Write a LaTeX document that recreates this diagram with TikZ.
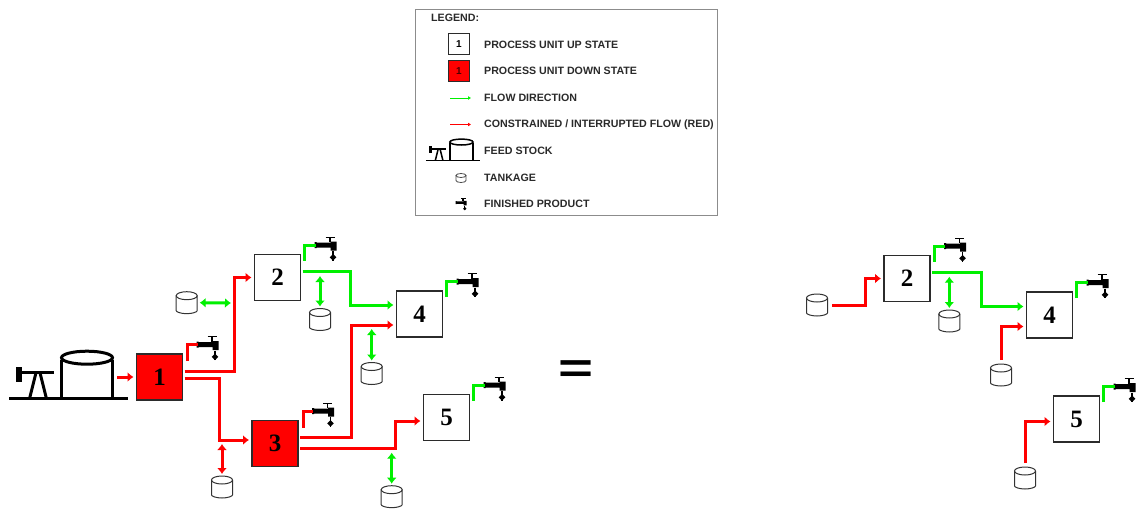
\documentclass[tikz,border=0pt]{standalone}
\usepackage{fontspec}
\setmainfont{Liberation Serif}
\setsansfont{Liberation Sans}
\usetikzlibrary{arrows.meta,positioning,calc}
\definecolor{flowgreen}{HTML}{00F000}
\definecolor{flowred}{HTML}{FF0000}
\definecolor{unitgray}{HTML}{2B2B2B}
\definecolor{legendgray}{HTML}{8C8C8C}
\definecolor{legendtext}{HTML}{2A2A2A}
\tikzset{
  unit/.style={draw=unitgray,line width=1.5pt,outer sep=0pt,fill=white,minimum size=46pt,inner sep=0pt,font=\fontsize{25}{25}\selectfont\bfseries},
  downunit/.style={unit,fill=flowred},
  keyunit/.style={draw=unitgray,line width=1pt,fill=white,minimum size=21pt,inner sep=0pt,font=\sffamily\fontsize{10}{10}\selectfont\bfseries,text=black},
  keydownunit/.style={keyunit,fill=flowred,text=black!70!red},
  tankage/.style={minimum size=24pt,inner sep=0pt,outer sep=0pt,path picture={
    \draw[black!80,line width=1pt,rounded corners=1pt] (-10.5,-7) -- (-10.5,7) arc[start angle=180,end angle=0,x radius=10.5,y radius=4] -- (10.5,-7);
    \draw[black!80,line width=1pt] (0,-7) ellipse[x radius=10.5,y radius=4];
  }},
  keytank/.style={minimum size=14pt,inner sep=0pt,outer sep=0pt,path picture={
    \draw[black!70,line width=.8pt] (-5,-2.5) -- (-5,2.5) arc[start angle=180,end angle=0,x radius=5,y radius=2] -- (5,-2.5);
    \draw[black!70,line width=.8pt] (0,-2.5) ellipse[x radius=5,y radius=2];
  }},
  keytext/.style={anchor=mid west,inner sep=0pt,text=legendtext,font=\sffamily\fontsize{10.65}{11}\selectfont\bfseries},
  flow/.style={-{Latex[length=6pt,width=10pt]},line width=3pt,shorten >=3pt,shorten <=2pt},
  greenflow/.style={flow,draw=flowgreen},
  redflow/.style={flow,draw=flowred},
  greenboth/.style={{Latex[length=6pt,width=10pt]}-{Latex[length=6pt,width=10pt]},line width=3pt,draw=flowgreen},
  redboth/.style={greenboth,draw=flowred},
  greenstub/.style={line width=3pt,draw=flowgreen},
  redstub/.style={line width=3pt,draw=flowred},
  keyflow/.style={-{Latex[length=3pt,width=4pt]},line width=1pt},
  tap/.pic={
    \coordinate (-in) at (-10,-4);
    \fill[black] (-11,-7) rectangle (-9,-1) (-10,-6.5) rectangle (6,-1.5) (5,-7.5) rectangle (11,1.5);
    \draw[black,line width=1pt] (0,-12) -- (9,-12);
    \draw[black,line width=1.6pt] (4.5,-12) -- (4.5,-7);
    \draw[black,line width=1.2pt] (7.5,2) -- (7.5,11.5);
    \fill[black] (7.5,5) -- (10.8,8.3) -- (7.5,11.5) -- (4.2,8.3) -- cycle;
  },
  feedstock/.pic={
    \coordinate (-out) at (46.5,-21.7);
    \draw[black] (-59.5,0) -- (59.5,0);
    \draw[black] (-7,0) -- (-7,-39) (44,0) -- (44,-39);
    \draw[black,fill=white] (18.5,-41) ellipse[x radius=25.5,y radius=6.5];
    \fill[black] (-52.5,-31.5) rectangle (-46.5,-17);
    \draw[black] (-52,-26) -- (-14.5,-26);
    \draw[black] (-39,0) -- (-32.5,-26) (-28.5,-26) -- (-22,0);
  }
}
\begin{document}
\begin{tikzpicture}[x=1pt,y=-1pt]
  \useasboundingbox (0,0) rectangle (1138,511);
  % legend
  \node[draw=legendgray,line width=1pt,fill=white,minimum width=302pt,minimum height=206pt,inner sep=0pt] (legend) at (566.8,112.5) {};
  \node[keytext] (legendtitle) at (431,19.5) {LEGEND:};
  \node[keytext] (uptext) at (484,46) {PROCESS UNIT UP STATE};
  \node[keytext] (downtext) at (484,72.5) {PROCESS UNIT DOWN STATE};
  \node[keytext] (greentext) at (484,99) {FLOW DIRECTION};
  \node[keytext] (redtext) at (484,125.5) {CONSTRAINED / INTERRUPTED FLOW (RED)};
  \node[keytext] (feedtext) at (484,152) {FEED STOCK};
  \node[keytext] (tanktext) at (484,179) {TANKAGE};
  \node[keytext] (tapstext) at (484,205.5) {FINISHED PRODUCT};
  \node[keyunit] (upkey) at (459,44.5) {1};
  \node[keydownunit] (downkey) at (459,71) {1};
  \draw[keyflow,draw=flowgreen] ([xshift=-34pt,yshift=1pt]greentext.mid west) -- ([xshift=-13pt,yshift=1pt]greentext.mid west);
  \draw[keyflow,draw=flowred] ([xshift=-34pt,yshift=1pt]redtext.mid west) -- ([xshift=-13pt,yshift=1pt]redtext.mid west);
  \pic[scale=.455,line width=1.5pt] (feedkey) at (453,160.7) {feedstock};
  \node[keytank] (tankkey) at (461,178) {};
  \pic[scale=.5,line width=.8pt] (tapkey) at (461,204.5) {tap};
  % plant with all units
  \pic[line width=3pt] (feed) at (68.5,398.7) {feedstock};
  \node[downunit] (unit1) at (159.5,377) {1};
  \node[unit,above right=53.5pt and 72pt of unit1] (unit2) {2};
  \node[downunit,below right=20.5pt and 69.5pt of unit1] (unit3) {3};
  \node[unit,below right=-9.5pt and 96pt of unit2] (unit4) {4};
  \node[unit,above right=-20pt and 125.5pt of unit3] (unit5) {5};
  \pic (tap1) at ([shift={(48,-28.5)}]unit1) {tap};
  \pic (tap2) at ([shift={(48,-28.5)}]unit2) {tap};
  \pic (tap3) at ([shift={(48,-28.5)}]unit3) {tap};
  \pic (tap4) at ([shift={(48,-28.5)}]unit4) {tap};
  \pic (tap5) at ([shift={(48,-28.5)}]unit5) {tap};
  \node[tankage] (tank1) at (186.7,302.7) {};
  \node[tankage] (tank2) at (320,319.5) {};
  \node[tankage] (tank3) at (222,487) {};
  \node[tankage] (tank4) at (371.7,373.5) {};
  \node[tankage] (tank5) at (391.7,496.7) {};
  \coordinate (joint1) at (231,303);
  \coordinate (joint2) at (320,276);
  \coordinate (joint3) at (222,444);
  \coordinate (joint4) at (371.7,329);
  \coordinate (joint5) at (391.7,452.7);
  \draw[redflow] (feed-out) -- (unit1.west);
  \draw[redstub] ([xshift=5pt,yshift=-7pt]unit1.north east) |- (tap1-in);
  \draw[greenstub] ([xshift=4pt,yshift=-6pt]unit2.north east) |- (tap2-in);
  \draw[redstub] ([xshift=5pt,yshift=-7pt]unit3.north east) |- (tap3-in);
  \draw[greenstub] ([xshift=4pt,yshift=-6pt]unit4.north east) |- (tap4-in);
  \draw[greenstub] ([xshift=4pt,yshift=-6pt]unit5.north east) |- (tap5-in);
  \draw[redflow] ([yshift=5.5pt]unit1.east) -- ++(52,0) |- (unit2.west);
  \draw[redflow] ([yshift=-1.7pt]unit1.east) -- ++(37,0) |- ([yshift=3.5pt]unit3.west);
  \draw[greenflow] ([yshift=6.5pt]unit2.east) -- ++(50,0) |- ([yshift=9pt]unit4.west);
  \draw[redflow] ([yshift=5.8pt]unit3.east) -- ++(53,0) |- ([yshift=-11pt]unit4.west);
  \draw[redflow] ([yshift=-5pt]unit3.east) -- ++(97,0) |- ([yshift=-3.5pt]unit5.west);
  \draw[greenboth] (tank1.east) ++(1,0) -- (joint1);
  \draw[greenboth] (tank2.north) ++(0,-1) -- (joint2);
  \draw[redboth] (tank3.north) ++(0,-1) -- (joint3);
  \draw[greenboth] (tank4.north) ++(0,-1) -- (joint4);
  \draw[greenboth] (tank5.north) ++(0,-1) -- (joint5);
  % equals
  \node[inner sep=0pt,font=\sffamily\fontsize{60}{60}\selectfont\bfseries] (equals) at (576,372) {\scalebox{1}[.7]{=}};
  % plant without unit 1 and 3
  \node[unit] (rightunit2) at (907,278.5) {2};
  \node[unit,below right=-9.5pt and 96.5pt of rightunit2] (rightunit4) {4};
  \node[unit,below right=58pt and -19pt of rightunit4] (rightunit5) {5};
  \pic (righttap2) at ([shift={(48,-28.5)}]rightunit2) {tap};
  \pic (righttap4) at ([shift={(48,-28.5)}]rightunit4) {tap};
  \pic (righttap5) at ([shift={(48,-28.5)}]rightunit5) {tap};
  \node[tankage] (righttank1) at (817,305) {};
  \node[tankage] (righttank2) at (949.3,321) {};
  \node[tankage] (righttank4) at (1001,375) {};
  \node[tankage] (righttank5) at (1025,478) {};
  \coordinate (rightjoint2) at (949.3,276.7);
  \draw[greenstub] ([xshift=4pt,yshift=-6pt]rightunit2.north east) |- (righttap2-in);
  \draw[greenstub] ([xshift=4pt,yshift=-6pt]rightunit4.north east) |- (righttap4-in);
  \draw[greenstub] ([xshift=4pt,yshift=-6pt]rightunit5.north east) |- (righttap5-in);
  \draw[redflow] (righttank1.east) ++(1,0) -- ++(35,0) |- (rightunit2.west);
  \draw[greenflow] ([yshift=6pt]rightunit2.east) -- ++(51,0) |- ([yshift=8.5pt]rightunit4.west);
  \draw[redflow] (righttank4.north) ++(0,-1) |- ([yshift=-11.5pt]rightunit4.west);
  \draw[redflow] (righttank5.north) ++(0,-1) |- ([yshift=-2.5pt]rightunit5.west);
  \draw[greenboth] (righttank2.north) ++(0,-1) -- (rightjoint2);
\end{tikzpicture}
\end{document}
